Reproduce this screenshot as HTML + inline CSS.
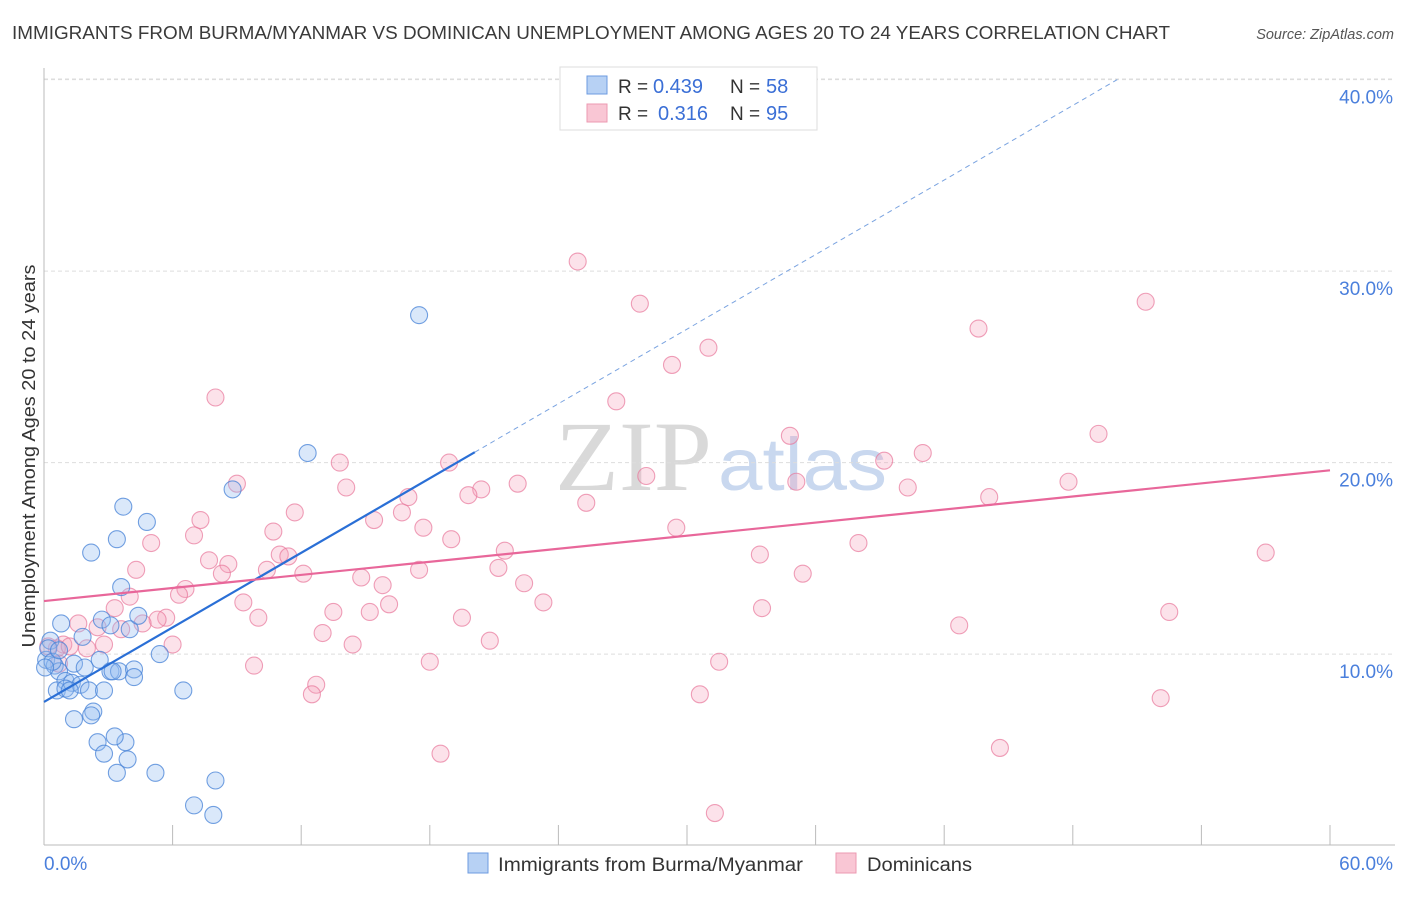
<!DOCTYPE html>
<html><head><meta charset="utf-8">
<style>
body{margin:0;background:#fff;font-family:"Liberation Sans",sans-serif;}
svg text{font-family:"Liberation Sans",sans-serif;}
</style></head>
<body>
<svg id="chart" width="1406" height="892" viewBox="0 0 1406 892" xmlns="http://www.w3.org/2000/svg">
<text x="12" y="39" font-size="18" fill="#3a3a3a" textLength="1158" lengthAdjust="spacingAndGlyphs">IMMIGRANTS FROM BURMA/MYANMAR VS DOMINICAN UNEMPLOYMENT AMONG AGES 20 TO 24 YEARS CORRELATION CHART</text>
<text x="1394" y="39" font-size="14.5" fill="#555" font-style="italic" text-anchor="end">Source: ZipAtlas.com</text>
<text x="555" y="490" font-size="100" fill="#d9d9d9" textLength="157" lengthAdjust="spacingAndGlyphs" style="font-family:'Liberation Serif',serif">ZIP</text>
<text x="718" y="490" font-size="74" fill="#c9d8ef" textLength="169" lengthAdjust="spacingAndGlyphs">atlas</text>
<g id="grid"></g>
<g id="axes"></g>
<g id="pts"></g>
<g id="lines"></g>
<text transform="translate(35,456) rotate(-90)" font-size="18" fill="#333" text-anchor="middle" textLength="383" lengthAdjust="spacingAndGlyphs">Unemployment Among Ages 20 to 24 years</text>
<g>
<rect x="560" y="67" width="257" height="63" fill="#fff" stroke="#ddd"/>
<rect x="587" y="76" width="20" height="18" fill="#b7d1f4" stroke="#6c9be0"/>
<rect x="587" y="104" width="20" height="18" fill="#f9c6d4" stroke="#ec9ab2"/>
<text x="618" y="93" font-size="19" fill="#333">R =</text>
<text x="653" y="93" font-size="20" fill="#3b6fd6">0.439</text>
<text x="730" y="93" font-size="19" fill="#333">N =</text>
<text x="766" y="93" font-size="20" fill="#3b6fd6">58</text>
<text x="618" y="120" font-size="19" fill="#333">R =</text>
<text x="658" y="120" font-size="20" fill="#3b6fd6">0.316</text>
<text x="730" y="120" font-size="19" fill="#333">N =</text>
<text x="766" y="120" font-size="20" fill="#3b6fd6">95</text>
</g>
<g>
<rect x="468" y="853" width="20" height="20" fill="#b7d1f4" stroke="#6c9be0"/>
<text x="498" y="871" font-size="19" fill="#333" textLength="305" lengthAdjust="spacingAndGlyphs">Immigrants from Burma/Myanmar</text>
<rect x="836" y="853" width="20" height="20" fill="#f9c6d4" stroke="#ec9ab2"/>
<text x="867" y="871" font-size="19" fill="#333" textLength="105" lengthAdjust="spacingAndGlyphs">Dominicans</text>
</g>
</svg>
<script>
const xTicks=[0,60];
const xTickLabels=["0.0%","60.0%"];
const yTicks=[10,20,30,40];
const yTickLabels=["10.0%","20.0%","30.0%","40.0%"];
const burmaX=[17.5,12.3,8.8,3.7,4.8,2.2,3.4,3.6,4.0,4.4,2.7,0.8,3.1,1.8,0.3,0.1,0.5,0.7,1.4,1.9,2.6,3.1,3.5,4.2,4.2,5.4,1.0,1.3,1.7,2.1,2.8,0.6,1.0,6.5,2.3,2.2,1.4,2.5,3.8,3.3,2.8,3.9,3.4,5.2,8.0,7.0,7.9,0.2,0.4,0.05,0.7,1.2,3.2];
const burmaY=[27.7,20.5,18.6,17.7,16.9,15.3,16.0,13.5,11.3,12.0,11.8,11.6,11.5,10.9,10.7,9.7,9.4,9.1,9.5,9.3,9.7,9.1,9.1,9.2,8.8,10.0,8.6,8.5,8.4,8.1,8.1,8.1,8.2,8.1,7.0,6.8,6.6,5.4,5.4,5.7,4.8,4.5,3.8,3.8,3.4,2.1,1.6,10.3,9.6,9.3,10.2,8.1,9.1];
const domX=[24.9,27.8,51.4,43.6,31.0,29.3,26.7,8.0,34.8,49.2,41.0,39.2,18.9,13.8,28.1,47.8,22.1,35.1,9.0,14.1,20.4,19.8,40.3,17.0,44.1,25.3,11.7,16.7,15.4,7.3,29.5,17.7,10.7,7.0,19.0,5.0,38.0,21.5,11.0,11.4,33.4,57.0,7.7,8.6,4.3,10.4,21.2,17.5,12.1,8.3,35.4,14.8,15.8,22.4,6.6,6.3,4.0,9.3,23.3,16.1,3.3,33.5,15.2,13.5,52.5,10.0,19.5,5.7,5.3,1.6,2.5,4.6,3.6,42.7,13.0,20.8,14.4,6.0,0.9,2.8,0.6,1.2,2.0,0.2,0.7,18.0,31.5,9.8,12.7,12.5,30.6,52.1,44.6,18.5,31.3];
const domY=[30.5,28.3,28.4,27.0,26.0,25.1,23.2,23.4,21.4,21.5,20.5,20.1,20.0,20.0,19.3,19.0,18.9,19.0,18.9,18.7,18.6,18.3,18.7,18.2,18.2,17.9,17.4,17.4,17.0,17.0,16.6,16.6,16.4,16.2,16.0,15.8,15.8,15.4,15.2,15.1,15.2,15.3,14.9,14.7,14.4,14.4,14.5,14.4,14.2,14.2,14.2,14.0,13.6,13.7,13.4,13.1,13.0,12.7,12.7,12.6,12.4,12.4,12.2,12.2,12.2,11.9,11.9,11.9,11.8,11.6,11.4,11.6,11.3,11.5,11.1,10.7,10.5,10.5,10.5,10.5,10.3,10.4,10.3,10.4,9.5,9.6,9.6,9.4,8.4,7.9,7.9,7.7,5.1,4.8,1.7];
const burmaLine=[7.5,0.649];
const domLine=[12.77,0.1138];
const NS="http://www.w3.org/2000/svg";
const X=v=>44+v*1286/60;
const Y=v=>845.6-v*19.15;
function mk(t,a,p){const e=document.createElementNS(NS,t);for(const k in a)e.setAttribute(k,a[k]);p.appendChild(e);return e;}
const grid=document.getElementById('grid'),axes=document.getElementById('axes'),pts=document.getElementById('pts'),lines=document.getElementById('lines');
mk('line',{x1:44,y1:79,x2:1395,y2:79,stroke:'#ddd','stroke-dasharray':'4,3'},grid);
yTicks.forEach((v,i)=>{
 const l=mk('line',{x1:44,y1:Y(v),x2:1395,y2:Y(v),stroke:'#ddd','stroke-dasharray':'4,3'},grid);
 
 
 const t=mk('text',{x:1393,y:Y(v)+24,'font-size':19,fill:'#4a7fdc','text-anchor':'end'},axes);
 t.textContent=yTickLabels[i];
 
 
});
mk('line',{x1:44,y1:68,x2:44,y2:845,stroke:'#bbb'},axes);
mk('line',{x1:44,y1:845,x2:1395,y2:845,stroke:'#bbb'},axes);
for(let i=0;i<=10;i++){const xx=X(i*6);mk('line',{x1:xx,y1:825,x2:xx,y2:845,stroke:'#bbb'},axes);}
xTicks.forEach((v,i)=>{
 const t=mk('text',{x:i==0?X(v):X(v)+63,y:870,'font-size':19,fill:'#4a7fdc','text-anchor':i==0?'start':'end'},axes);
 t.textContent=xTickLabels[i];
 
 
});
domX.forEach((v,i)=>{
 const c=mk('circle',{cx:X(v),cy:Y(domY[i]),r:8.5,fill:'rgba(244,160,185,0.3)',stroke:'rgba(232,120,155,0.7)','stroke-width':1.1},pts);
 
 
});
burmaX.forEach((v,i)=>{
 const c=mk('circle',{cx:X(v),cy:Y(burmaY[i]),r:8.5,fill:'rgba(150,190,240,0.35)',stroke:'rgba(70,130,215,0.75)','stroke-width':1.1},pts);
 
 
});
const bEnd=20.1, bDash=(40-burmaLine[0])/burmaLine[1];
const l1=mk('line',{x1:X(0),y1:Y(burmaLine[0]),x2:X(bEnd),y2:Y(burmaLine[0]+burmaLine[1]*bEnd),stroke:'#2a6fd6','stroke-width':2.2},lines);


const l2=mk('line',{x1:X(bEnd),y1:Y(burmaLine[0]+burmaLine[1]*bEnd),x2:X(bDash),y2:Y(40),stroke:'#7aa3e0','stroke-width':1,'stroke-dasharray':'5,4'},lines);


const l3=mk('line',{x1:X(0),y1:Y(domLine[0]),x2:X(60),y2:Y(domLine[0]+domLine[1]*60),stroke:'#e8679a','stroke-width':2.2},lines);


</script>
</body></html>
